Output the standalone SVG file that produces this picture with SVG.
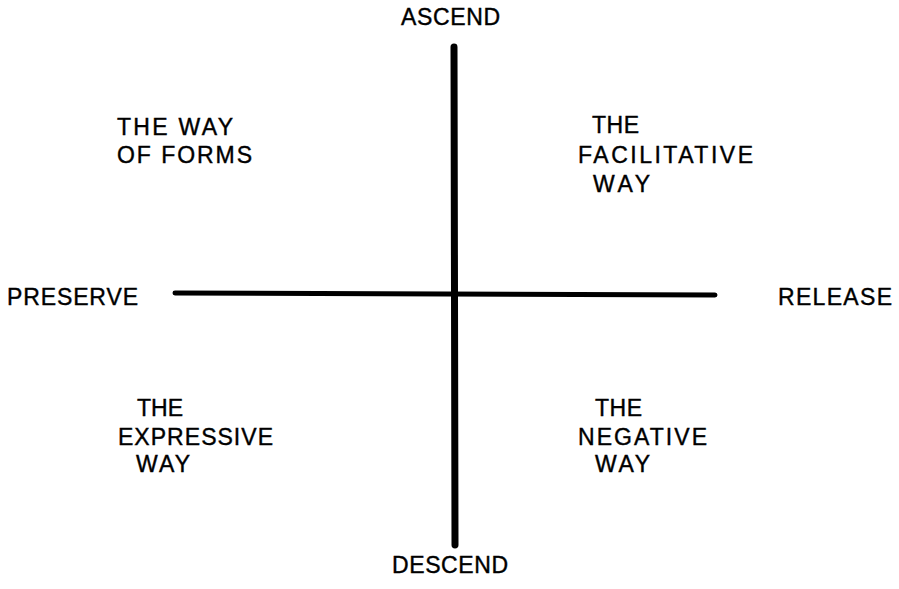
<svg xmlns="http://www.w3.org/2000/svg" width="899" height="589" viewBox="0 0 899 589">
<style>
text{font-family:"Liberation Sans","DejaVu Sans",sans-serif;font-size:23px;fill:#000;stroke:#000;stroke-width:0.4}
.ax{stroke:#000;stroke-linecap:round;fill:none}
</style>
<rect width="899" height="589" fill="#fff"/>
<g id="connectors">
<line class="ax" x1="454" y1="47" x2="455" y2="545" stroke-width="7"/>
<line class="ax" x1="175" y1="293" x2="715" y2="295" stroke-width="5"/>
</g>
<g id="ascend"><text x="401" y="25" textLength="99" lengthAdjust="spacing">ASCEND</text></g>
<g id="descend"><text x="392" y="573" textLength="116" lengthAdjust="spacing">DESCEND</text></g>
<g id="preserve"><text x="7" y="305" textLength="131" lengthAdjust="spacing">PRESERVE</text></g>
<g id="release"><text x="778" y="305" textLength="114" lengthAdjust="spacing">RELEASE</text></g>
<g id="way-of-forms">
<text x="117" y="135" textLength="116" lengthAdjust="spacing">THE WAY</text>
<text x="117" y="163" textLength="135" lengthAdjust="spacing">OF FORMS</text>
</g>
<g id="facilitative-way">
<text x="592" y="133" textLength="47" lengthAdjust="spacing">THE</text>
<text x="578" y="163" textLength="175" lengthAdjust="spacing">FACILITATIVE</text>
<text x="593" y="192" textLength="57" lengthAdjust="spacing">WAY</text>
</g>
<g id="expressive-way">
<text x="137" y="416" textLength="46" lengthAdjust="spacing">THE</text>
<text x="118" y="445" textLength="155" lengthAdjust="spacing">EXPRESSIVE</text>
<text x="136" y="472" textLength="54" lengthAdjust="spacing">WAY</text>
</g>
<g id="negative-way">
<text x="595" y="416" textLength="47" lengthAdjust="spacing">THE</text>
<text x="578" y="445" textLength="129" lengthAdjust="spacing">NEGATIVE</text>
<text x="595" y="472" textLength="55" lengthAdjust="spacing">WAY</text>
</g>
</svg>
